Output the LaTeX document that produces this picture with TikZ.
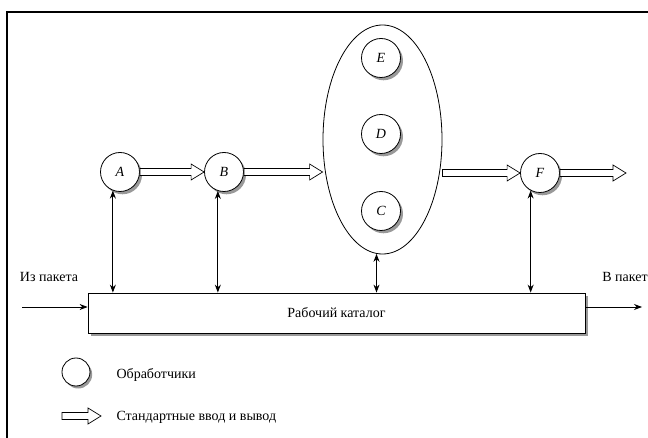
\documentclass[tikz,border=0pt]{standalone}
\usepackage{fontspec}
\setmainfont{Liberation Serif}
\usetikzlibrary{arrows.meta,shapes.geometric,calc}

\begin{document}
\begin{tikzpicture}[x=1pt, y=-1pt,
    every node/.style={font=\fontsize{14}{16}\selectfont},
    proc/.style={circle, draw, line width=0.8pt, fill=white, minimum size=39pt, inner sep=0pt,
        font=\fontsize{14}{16}\selectfont\itshape},
    shadowfill/.style={fill=gray!80},
    fatarrow/.style={draw, line width=0.7pt, fill=white, to path={let \p1=(\tikztostart), \p2=(\tikztotarget) in
        (\x1,\y1+3.5pt) -- (\x2-13pt,\y1+3.5pt) -- (\x2-13pt,\y1+8pt) -- (\x2,\y1)
        -- (\x2-13pt,\y1-8pt) -- (\x2-13pt,\y1-3.5pt) -- (\x1,\y1-3.5pt) -- cycle}},
    link/.style={line width=1pt, {Stealth[length=8pt,width=6pt]}-{Stealth[length=8pt,width=6pt]}},
    feed/.style={line width=0.8pt, -{Stealth[length=8pt,width=6pt]}}]
  \useasboundingbox (0,0) rectangle (648,438);
  \draw[line width=2.2pt] (7,438) -- (7,12) -- (648,12);

  % shadows first
  \fill[shadowfill] (91,296) rectangle (588,336);
  \foreach \cx/\cy in {120/172, 224/172, 381/58, 381/134, 381/211, 540/173}
    \fill[shadowfill] (\cx+2.5,\cy+2.8) circle (19.5pt);
  \fill[shadowfill] (78.2,374.5) circle (14pt);

  % working directory
  \node[draw, line width=0.8pt, fill=white, minimum width=497pt, minimum height=40pt] (box) at (336.5,313) {Рабочий каталог};

  % handlers
  \node[proc] (A) at (120,172) {A};
  \node[proc] (B) at (224,172) {B};
  \node[ellipse, draw, line width=0.8pt, minimum width=119pt, minimum height=229pt, inner sep=0pt] (grp) at (382.5,139.5) {};
  \node[proc] (E) at (381,58) {E};
  \node[proc] (D) at (381,134) {D};
  \node[proc] (C) at (381,211) {C};
  \node[proc] (F) at (540,173) {F};
  \coordinate (Fout) at (626,173);

  \draw[fatarrow] (A.east) to (B.west);
  \draw[fatarrow] (B.east) to (grp.west);
  \draw[fatarrow] ($(grp.east)+(0,33.5)$) to (F.west);
  \draw[fatarrow] (F.east) to (Fout);

  \draw[link] (A.-111) -- (A.-111 |- box.north);
  \draw[link] (B.-108) -- (B.-108 |- box.north);
  \draw[link] (grp.-93) -- (grp.-93 |- box.north);
  \draw[link] (F.-118) -- (F.-118 |- box.north);

  % package in / out
  \coordinate (in) at (22,307);
  \coordinate (out) at (642,307);
  \node (inlbl) at (49,277) {Из пакета};
  \node (outlbl) at (625,277) {В пакет};
  \draw[feed] (in) -- (in -| box.west);
  \draw[feed] (out -| box.east) -- (out);

  % legend
  \node[proc, minimum size=28pt] (lgc) at (76,372) {};
  \node[anchor=west] (lgctxt) at (113,375) {Обработчики};
  \coordinate (lga) at (62,416);
  \coordinate (lgb) at (101,416);
  \draw[fatarrow] (lga) to (lgb);
  \node[anchor=west] (lgatxt) at (113,417) {Стандартные ввод и вывод};
\end{tikzpicture}
\end{document}
